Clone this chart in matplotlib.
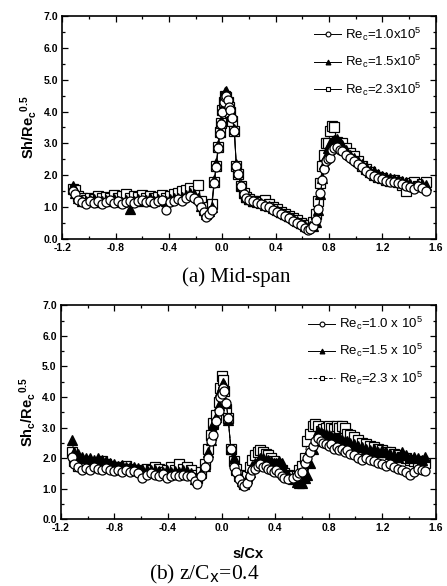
import matplotlib
matplotlib.use("Agg")
import matplotlib.pyplot as plt
from matplotlib.ticker import MultipleLocator, FormatStrFormatter
from matplotlib.lines import Line2D

plt.rcParams['font.family'] = ['Liberation Sans', 'DejaVu Sans']
plt.rcParams['mathtext.default'] = 'regular'

# ---- (a) mid-span ----
xa = [-1.12, -1.10, -1.08, -1.05, -1.02, -0.99, -0.96, -0.93, -0.90, -0.87,
      -0.84, -0.81, -0.78, -0.75, -0.72, -0.69, -0.66, -0.63, -0.60, -0.57,
      -0.54, -0.51, -0.48, -0.45, -0.42, -0.39, -0.36, -0.33, -0.30, -0.27,
      -0.24, -0.21, -0.18, -0.16, -0.14, -0.12, -0.10, -0.08, -0.06, -0.045,
      -0.03, -0.02, -0.01, 0.00, 0.01, 0.02, 0.03, 0.04, 0.05, 0.06,
      0.075, 0.09, 0.105, 0.12, 0.14, 0.16, 0.18, 0.20, 0.23, 0.26,
      0.29, 0.32, 0.35, 0.38, 0.41, 0.44, 0.47, 0.50, 0.53, 0.56,
      0.59, 0.62, 0.64, 0.66, 0.68, 0.70, 0.72, 0.735, 0.75, 0.765,
      0.78, 0.795, 0.81, 0.825, 0.84, 0.86, 0.88, 0.90, 0.93, 0.96,
      0.99, 1.02, 1.05, 1.08, 1.11, 1.14, 1.17, 1.20, 1.23, 1.26,
      1.29, 1.32, 1.35, 1.38, 1.41, 1.44, 1.47, 1.50, 1.53]

a_re10 = [1.52, 1.40, 1.22, 1.15, 1.10, 1.18, 1.12, 1.20, 1.10, 1.15,
          1.22, 1.12, 1.18, 1.10, 1.15, 1.20, 1.12, 1.18, 1.22, 1.15,
          1.20, 1.12, 1.18, 1.22, 0.92, 1.15, 1.20, 1.25, 1.18, 1.30,
          1.35, 1.30, 1.20, 1.00, 0.85, 0.68, 0.80, 0.92, 1.75, 2.25,
          2.85, 3.30, 3.60, 4.00, 4.30, 4.45, 4.50, 4.35, 4.15, 4.05,
          3.80, 3.38, 2.30, 2.05, 1.65, 1.40, 1.28, 1.22, 1.18, 1.12,
          1.10, 1.05, 1.00, 0.90, 0.85, 0.78, 0.72, 0.65, 0.58, 0.52,
          0.45, 0.35, 0.30, 0.32, 0.42, 0.60, 0.95, 1.45, 1.85, 2.20,
          2.45, 2.50, 2.55, 2.80, 2.85, 2.88, 2.80, 2.75, 2.65, 2.55,
          2.45, 2.35, 2.25, 2.15, 2.05, 1.98, 1.92, 1.88, 1.82, 1.78,
          1.80, 1.75, 1.72, 1.68, 1.62, 1.58, 1.65, 1.60, 1.52]

a_re15 = [1.65, 1.45, 1.28, 1.20, 1.18, 1.22, 1.25, 1.15, 1.20, 1.22,
          1.18, 1.25, 1.20, 1.15, 1.22, 0.95, 1.20, 1.25, 1.18, 1.22,
          1.28, 1.20, 1.25, 1.22, 1.18, 1.25, 1.28, 1.30, 1.32, 1.38,
          1.45, 1.42, 1.30, 1.05, 0.90, 0.80, 0.88, 1.00, 1.85, 2.40,
          2.95, 3.40, 3.70, 4.10, 4.45, 4.60, 4.65, 4.45, 4.20, 4.10,
          3.85, 3.45, 2.35, 2.10, 1.70, 1.45, 1.32, 1.25, 1.20, 1.15,
          1.12, 1.08, 1.05, 0.98, 0.90, 0.85, 0.78, 0.72, 0.65, 0.58,
          0.50, 0.42, 0.38, 0.40, 0.40, 0.55, 0.90, 1.40, 1.90, 2.35,
          2.60, 2.85, 3.00, 3.05, 3.10, 3.15, 3.05, 2.95, 2.80, 2.65,
          2.55, 2.45, 2.35, 2.25, 2.15, 2.15, 2.05, 1.98, 1.95, 1.90,
          1.88, 1.85, 1.82, 1.78, 1.72, 1.68, 1.70, 1.72, 1.70]

a_re23 = [1.58, 1.55, 1.35, 1.28, 1.22, 1.30, 1.25, 1.35, 1.28, 1.32,
          1.30, 1.38, 1.28, 1.35, 1.40, 1.30, 1.35, 1.32, 1.38, 1.30,
          1.35, 1.28, 1.32, 1.38, 1.30, 1.35, 1.40, 1.45, 1.50, 1.55,
          1.60, 1.50, 1.70, 1.20, 0.95, 0.85, 1.00, 1.10, 1.80, 2.30,
          2.90, 3.35, 3.65, 4.05, 4.30, 4.50, 4.45, 4.30, 4.15, 4.00,
          3.70, 3.40, 2.30, 2.05, 1.65, 1.45, 1.32, 1.25, 1.20, 1.18,
          1.15, 1.22, 1.10, 1.00, 0.95, 0.85, 0.80, 0.72, 0.65, 0.60,
          0.52, 0.45, 0.40, 0.45, 0.55, 0.80, 1.20, 1.75, 2.30, 2.65,
          3.00, 3.00, 3.40, 3.55, 3.50, 3.05, 2.90, 3.00, 2.85, 2.70,
          2.60, 2.45, 2.30, 2.20, 2.10, 2.00, 1.95, 1.90, 1.85, 1.82,
          1.85, 1.78, 1.70, 1.50, 1.75, 1.80, 1.65, 1.72, 1.78]

# ---- (b) z/Cx = 0.4 ----
xb = [-1.12, -1.10, -1.07, -1.04, -1.01, -0.98, -0.95, -0.92, -0.89, -0.86,
      -0.83, -0.80, -0.77, -0.74, -0.71, -0.68, -0.65, -0.62, -0.59, -0.56,
      -0.53, -0.50, -0.47, -0.44, -0.41, -0.38, -0.35, -0.32, -0.29, -0.26,
      -0.23, -0.20, -0.18, -0.15, -0.12, -0.10, -0.08, -0.06, -0.04, -0.02,
      -0.01, 0.00, 0.01, 0.02, 0.035, 0.05, 0.07, 0.09, 0.11, 0.13,
      0.15, 0.17, 0.19, 0.21, 0.23, 0.25, 0.27, 0.29, 0.31, 0.33,
      0.35, 0.37, 0.39, 0.41, 0.43, 0.45, 0.47, 0.50, 0.53, 0.56,
      0.58, 0.60, 0.62, 0.64, 0.66, 0.68, 0.70, 0.72, 0.74, 0.76,
      0.78, 0.80, 0.82, 0.84, 0.86, 0.88, 0.90, 0.92, 0.94, 0.96,
      0.99, 1.02, 1.05, 1.08, 1.11, 1.14, 1.17, 1.20, 1.23, 1.26,
      1.29, 1.32, 1.35, 1.38, 1.41, 1.44, 1.47, 1.50, 1.52]

b_re10 = [2.05, 1.80, 1.70, 1.60, 1.68, 1.62, 1.70, 1.65, 1.60, 1.68,
          1.62, 1.58, 1.62, 1.55, 1.60, 1.55, 1.58, 1.50, 1.35, 1.45,
          1.50, 1.45, 1.40, 1.48, 1.35, 1.42, 1.45, 1.40, 1.45, 1.42,
          1.40, 1.25, 1.15, 1.40, 1.70, 2.00, 2.55, 2.75, 3.20, 3.55,
          4.00, 4.10, 4.30, 4.20, 3.80, 3.30, 2.30, 1.70, 1.55, 1.30,
          1.15, 1.10, 1.20, 1.40, 1.60, 1.65, 1.75, 1.80, 1.70, 1.75,
          1.65, 1.60, 1.55, 1.60, 1.50, 1.40, 1.35, 1.30, 1.35, 1.40,
          1.50, 1.55, 1.85, 2.00, 2.20, 2.40, 2.55, 2.65, 2.55, 2.50,
          2.45, 2.40, 2.45, 2.30, 2.35, 2.25, 2.30, 2.20, 2.25, 2.15,
          2.10, 2.00, 1.95, 2.00, 1.95, 1.90, 1.85, 1.80, 1.75, 1.80,
          1.70, 1.65, 1.60, 1.55, 1.45, 1.55, 1.65, 1.60, 1.58]

b_re15 = [2.60, 2.20, 2.15, 2.05, 2.00, 2.00, 1.95, 2.00, 1.95, 1.90,
          1.85, 1.80, 1.75, 1.78, 1.72, 1.70, 1.72, 1.68, 1.65, 1.60,
          1.62, 1.60, 1.58, 1.55, 1.60, 1.55, 1.58, 1.55, 1.60, 1.58,
          1.50, 1.30, 1.35, 1.50, 1.75, 2.20, 2.60, 3.10, 3.35, 3.75,
          4.20, 4.35, 4.45, 4.40, 3.80, 3.25, 2.30, 2.00, 1.60, 1.40,
          1.25, 1.20, 1.35, 1.55, 1.75, 1.85, 1.90, 2.00, 2.00, 1.95,
          1.95, 1.90, 1.85, 1.85, 1.90, 1.85, 1.60, 1.45, 1.30, 1.22,
          1.20, 1.20, 1.35, 1.45, 1.85, 2.30, 2.55, 2.90, 2.85, 2.80,
          2.80, 2.75, 2.72, 2.70, 2.65, 2.68, 2.60, 2.55, 2.55, 2.50,
          2.45, 2.40, 2.35, 2.30, 2.25, 2.30, 2.20, 2.25, 2.20, 2.15,
          2.10, 2.05, 2.20, 2.10, 2.00, 2.05, 2.00, 1.95, 2.05]

b_re23 = [2.20, 1.90, 1.75, 1.85, 1.90, 1.80, 1.85, 1.78, 1.90, 1.80,
          1.75, 1.70, 1.72, 1.68, 1.75, 1.65, 1.60, 1.62, 1.58, 1.65,
          1.60, 1.70, 1.65, 1.55, 1.62, 1.70, 1.60, 1.80, 1.65, 1.70,
          1.60, 1.45, 1.35, 1.55, 1.80, 2.30, 2.75, 3.15, 3.40, 3.85,
          4.30, 4.70, 4.55, 4.20, 3.60, 3.30, 2.30, 1.90, 1.65, 1.45,
          1.30, 1.15, 1.40, 1.70, 1.95, 2.10, 2.20, 2.25, 2.20, 2.15,
          2.10, 2.00, 1.90, 1.80, 1.70, 1.60, 1.50, 1.45, 1.40, 1.40,
          1.60, 1.75, 2.00, 2.55, 2.80, 3.05, 3.10, 3.05, 2.90, 2.95,
          3.00, 3.05, 3.00, 2.95, 3.05, 3.00, 3.05, 3.00, 2.80, 2.75,
          2.70, 2.60, 2.50, 2.45, 2.40, 2.35, 2.30, 2.25, 2.20, 2.20,
          2.15, 2.10, 2.05, 2.00, 1.95, 1.90, 1.85, 1.90, 1.85]

labels_a = [r"Re$_c$=1.0x10$^5$", r"Re$_c$=1.5x10$^5$", r"Re$_c$=2.3x10$^5$"]
labels_b = [r"Re$_c$=1.0 x 10$^5$", r"Re$_c$=1.5 x 10$^5$", r"Re$_c$=2.3 x 10$^5$"]

fig = plt.figure(figsize=(4.47, 5.86), dpi=100)
ax_a = fig.add_axes([0.139, 0.592, 0.836, 0.381])
ax_b = fig.add_axes([0.136, 0.114, 0.839, 0.365])

styles = [dict(marker='o', mfc='white', ls='-'),
          dict(marker='^', mfc='black', ls='-'),
          dict(marker='s', mfc='white', ls='-')]


def draw(ax, x, series, labels, sq_ls, fs, anchor):
    st = [dict(s) for s in styles]
    st[2]['ls'] = sq_ls
    for k in [2, 1, 0]:
        ax.plot(x, series[k], color='black', lw=0.7, ms=6.5, mew=0.9,
                mec='black', zorder=3 + (2 - k), **st[k])
    handles = [Line2D([], [], color='black', lw=0.7, ms=3.5, mew=0.8,
                      mec='black', **st[k]) for k in range(3)]
    ax.legend(handles, labels, loc='upper left', bbox_to_anchor=anchor,
              frameon=False, fontsize=fs, handlelength=2.0,
              handletextpad=0.3, labelspacing=0.75, borderpad=0,
              borderaxespad=0)
    ax.set_xlim(-1.2, 1.6)
    ax.set_ylim(0, 7.0)
    ax.xaxis.set_major_locator(MultipleLocator(0.4))
    ax.xaxis.set_minor_locator(MultipleLocator(0.2))
    ax.yaxis.set_major_locator(MultipleLocator(1.0))
    ax.yaxis.set_minor_locator(MultipleLocator(0.5))
    ax.xaxis.set_major_formatter(FormatStrFormatter('%.1f'))
    ax.yaxis.set_major_formatter(FormatStrFormatter('%.1f'))
    ax.tick_params(which='both', direction='in', top=True, right=True,
                   width=0.9)
    ax.tick_params(which='major', length=4, labelsize=7.5, pad=3)
    ax.tick_params(which='minor', length=2)
    for lab in ax.get_xticklabels() + ax.get_yticklabels():
        lab.set_fontweight('bold')
    for sp in ax.spines.values():
        sp.set_linewidth(1.2)


draw(ax_a, xa, [a_re10, a_re15, a_re23], labels_a, '-', 9.5, (0.675, 0.955))
draw(ax_b, xb, [b_re10, b_re15, b_re23], labels_b, '--', 9.5, (0.66, 0.955))

ax_a.set_ylabel(r"Sh/Re$_c$$^{0.5}$", fontsize=10.5, fontweight='bold', labelpad=3)
ax_b.set_ylabel(r"Sh$_c$/Re$_c$$^{0.5}$", fontsize=10.5, fontweight='bold', labelpad=3)
ax_b.set_xlabel("s/Cx", fontsize=10.5, fontweight='bold', labelpad=10)

fig.text(0.528, 0.527, "(a) Mid-span", family='Liberation Serif',
         fontsize=15, ha='center', va='center')
fig.text(0.457, 0.019, r"(b) z/C$_\mathrm{x}$=0.4", family='Liberation Serif',
         fontsize=15.5, ha='center', va='center')

fig.savefig("out.png", dpi=100)
